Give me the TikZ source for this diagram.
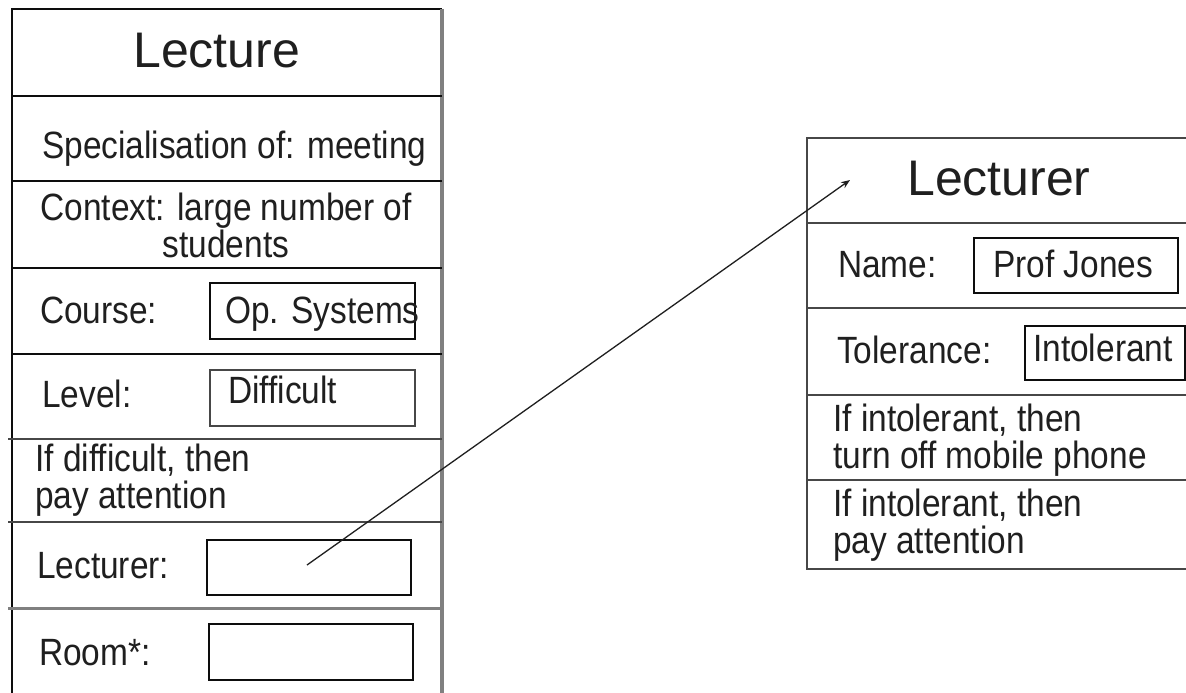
\documentclass[tikz,border=0pt]{standalone}
\usepackage{fontspec}
\newfontfamily\titlefont{Liberation Sans}
\newfontfamily\bodyfont{Liberation Sans}[FakeStretch=0.88]
\usetikzlibrary{arrows.meta}
\definecolor{ink}{gray}{0.12}
\definecolor{frameblack}{gray}{0.05}
\definecolor{framegrey}{gray}{0.5}
\definecolor{linedark}{gray}{0.28}
\begin{document}
\begin{tikzpicture}[x=1pt,y=-1pt,
  title/.style={inner sep=0pt,anchor=base west,text=ink,font=\titlefont\fontsize{50}{50}\selectfont},
  txt/.style={inner sep=0pt,anchor=base west,text=ink,font=\bodyfont\fontsize{38}{37}\selectfont},
  sep/.style={line width=2.6pt,draw=frameblack},
  sepgrey/.style={line width=2.8pt,draw=linedark},
  valbox/.style={draw=frameblack,line width=2.2pt,rectangle,inner sep=0pt,anchor=north west},
  link/.style={draw=ink,line width=1.3pt,-{Stealth[length=9pt,width=7pt]}}
]
\useasboundingbox[fill=white] (0,0) rectangle (1186,693);

% ---------- Left frame: Lecture ----------
\coordinate (LTL) at (12,9);
\coordinate (LTR) at (442,9);
\coordinate (LBL) at (12,693);
\coordinate (LBR) at (442,693);
\draw[sep] (LBL) -- (LTL) -- (LTR);
\draw[line width=3.6pt,draw=framegrey] (LTR) -- (LBR);
\foreach \yy in {96,181,268,354}{\draw[sep] (12,\yy) -- (442,\yy);}
\draw[sepgrey] (8,439) -- (442,439);
\draw[sepgrey] (8,522) -- (442,522);
\draw[line width=3pt,draw=framegrey] (8,608) -- (442,608);

\node[title] (lecture) at (133,68) {Lecture};
\node[txt] (spec) at (42,158) {Specialisation of: meeting};
\node[txt,anchor=base,align=center] (context) at (226,257) {Context: large number of\\students};
\node[txt] (course) at (40,323) {Course:};
\node[valbox,minimum width=205pt,minimum height=56pt] (coursebox) at (209,282) {};
\node[txt] (coursev) at (225,323) {Op. Systems};
\node[txt] (level) at (42,407) {Level:};
\node[valbox,draw=linedark,minimum width=205pt,minimum height=56pt] (levelbox) at (209,369) {};
\node[txt] (levelv) at (228,403) {Difficult};
\node[txt,align=left] (rule1) at (35,508) {If difficult, then\\pay attention};
\node[txt] (lecturer) at (37,578) {Lecturer:};
\node[valbox,minimum width=204pt,minimum height=55pt] (lecturerbox) at (206,539) {};
\node[txt] (room) at (39,665) {Room*:};
\node[valbox,minimum width=204pt,minimum height=56pt] (roombox) at (208,623) {};

% ---------- Right frame: Lecturer ----------
\coordinate (RTL) at (807,138);
\coordinate (RTR) at (1186,138);
\coordinate (RBL) at (807,569);
\coordinate (RBR) at (1186,569);
\draw[sepgrey] (RBR) -- (RBL) -- (RTL) -- (RTR);
\foreach \yy in {223,308,395,480}{\draw[sepgrey] (807,\yy) -- (1186,\yy);}

\node[title] (lecturertitle) at (907,195) {Lecturer};
\node[txt] (name) at (838,277) {Name:};
\node[valbox,minimum width=204pt,minimum height=55pt] (namebox) at (973,237) {};
\node[txt] (namev) at (993,277) {Prof Jones};
\node[txt] (tol) at (837,363) {Tolerance:};
\node[valbox,minimum width=160pt,minimum height=54pt] (tolbox) at (1024,325) {};
\node[txt] (tolv) at (1033,361) {Intolerant};
\node[txt,align=left] (rule2) at (833,468) {If intolerant, then\\turn off mobile phone};
\node[txt,align=left] (rule3) at (833,553) {If intolerant, then\\pay attention};

% ---------- Link ----------
\coordinate (linkstart) at (307,565);
\coordinate (linkend) at (850,180);
\draw[link] (linkstart) -- (linkend);
\end{tikzpicture}
\end{document}
